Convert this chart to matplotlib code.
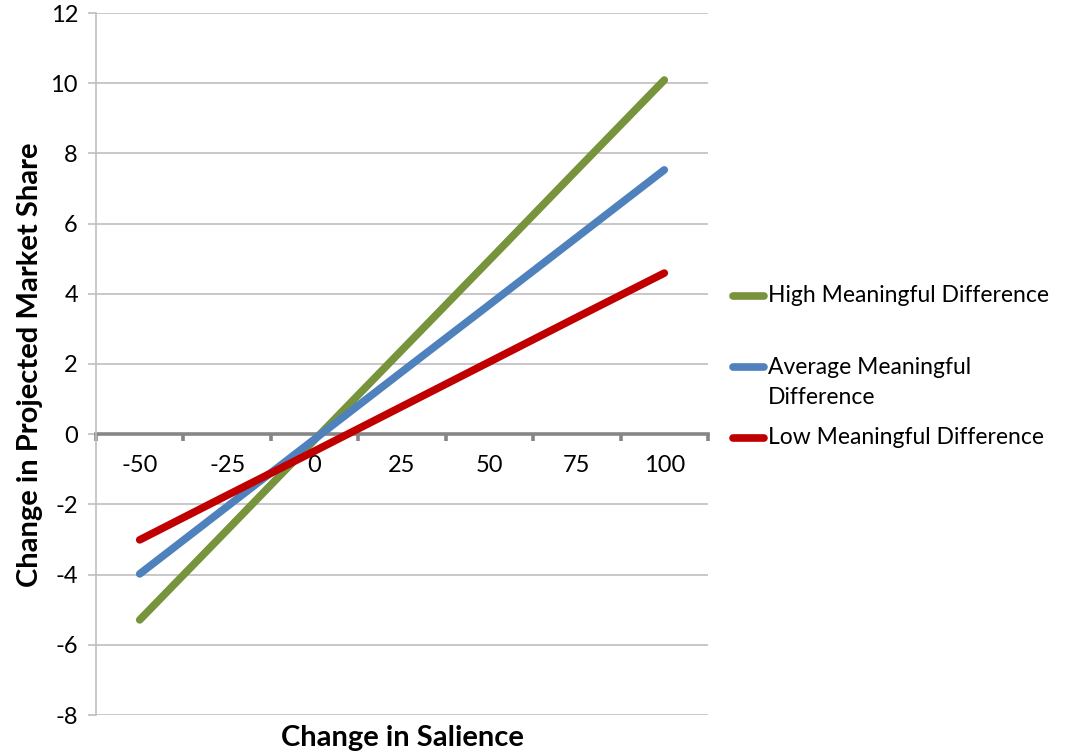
import matplotlib
matplotlib.use("Agg")
from matplotlib import pyplot as plt
from matplotlib.lines import Line2D

plt.rcParams['font.family'] = ['Lato', 'DejaVu Sans']
plt.rcParams['axes.unicode_minus'] = False

# category axis and series
salience = ['-50', '-25', '0', '25', '50', '75', '100']
high_md = [-5.29, -2.73, -0.16, 2.40, 4.96, 7.53, 10.09]
avg_md = [-3.98, -2.06, -0.14, 1.78, 3.69, 5.61, 7.53]
low_md = [-3.01, -1.74, -0.48, 0.79, 2.06, 3.33, 4.59]

series_names = ['High Meaningful Difference',
                'Average Meaningful\nDifference',
                'Low Meaningful Difference']
series_colors = ['#77933C', '#4F81BD', '#C00000']

W, H = 1068, 754
fig = plt.figure(figsize=(W / 100, H / 100), dpi=100)
ax = fig.add_axes([96 / W, 1 - 715 / H, 612 / W, 702 / H])

xs = list(range(len(salience)))
for vals, col in zip([high_md, avg_md, low_md], series_colors):
    ax.plot(xs, vals, color=col, lw=5.5, solid_capstyle='round', zorder=3)

ax.set_xlim(-0.5, len(salience) - 0.5)
ax.set_ylim(-8, 12)
ax.set_yticks(range(-8, 13, 2))
ax.yaxis.grid(True, color='#BFBFBF', lw=1.2)
ax.set_axisbelow(True)

for s in ['top', 'right']:
    ax.spines[s].set_visible(False)
ax.spines['left'].set_color('#BFBFBF')
ax.spines['left'].set_linewidth(1.2)
ax.spines['bottom'].set_position(('data', 0))
ax.spines['bottom'].set_color('#868686')
ax.spines['bottom'].set_linewidth(2.6)
ax.spines['bottom'].set_zorder(2)

ax.tick_params(axis='y', length=6, width=1.2, color='#BFBFBF', pad=7,
               labelsize=17, labelcolor='#000000')
ax.set_xticks(xs)
ax.set_xticklabels(salience)
ax.set_xticks([x - 0.5 for x in range(len(salience) + 1)], minor=True)
ax.tick_params(axis='x', which='major', length=0, pad=15, labelsize=17)
ax.tick_params(axis='x', which='minor', length=5, width=2.6,
               color='#868686', direction='out')

fig.text(402 / W, 1 - 738 / H, 'Change in Salience', ha='center', va='center',
         fontsize=21, fontweight='bold')
fig.text(30 / W, 1 - 365 / H, 'Change in Projected Market Share', ha='center',
         va='center', rotation=90, fontsize=21, fontweight='bold')

# legend on the right, handle aligned with the first text line
leg_y = [296, 367, 438]
for name, col, yp in zip(series_names, series_colors, leg_y):
    yf = 1 - yp / H
    fig.add_artist(Line2D([733 / W, 764 / W], [yf, yf], color=col, lw=5.5,
                          solid_capstyle='round'))
    for i, line in enumerate(name.split('\n')):
        fig.text(768 / W, 1 - (yp + 31 * i) / H, line, ha='left', va='center',
                 fontsize=16.5)

fig.savefig('out.png', dpi=100)
